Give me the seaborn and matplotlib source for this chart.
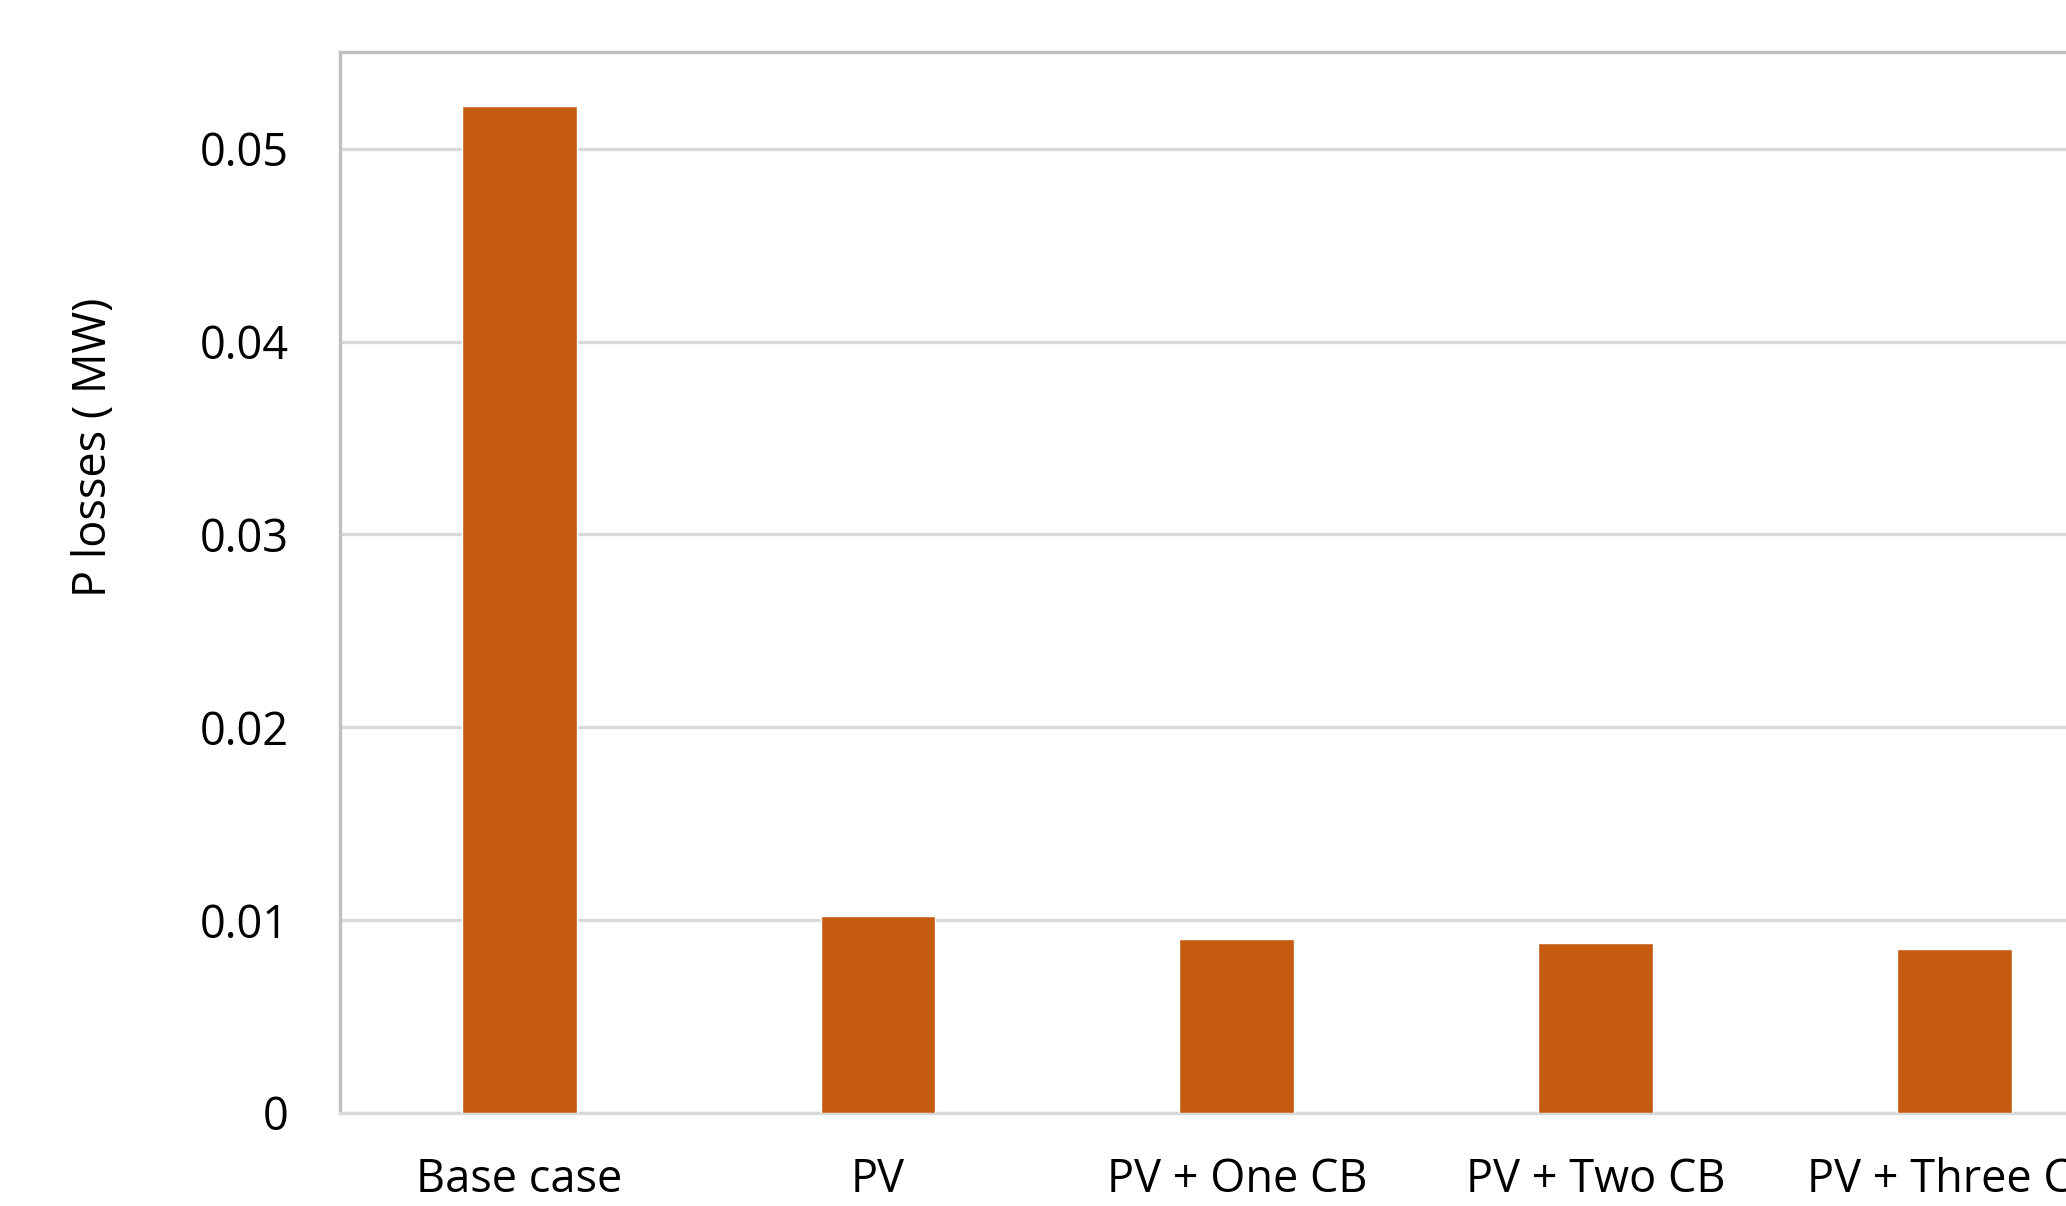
#%%
'''PACKAGE IMPORTS'''
import pandas as pd
import matplotlib.pyplot as plt
import numpy as np
import seaborn as sns

# %%
'''Data'''
cases = ['Base case', 'PV', 'PV + One CB', 'PV + Two CB', 'PV + Three CB']
pLosses = [0.0522, 0.0102, 0.0090, 0.0088, 0.0085]
yTicks = [0, 0.01, 0.02, 0.03, 0.04, 0.05]
yTickLabels = ['0', '0.01', '0.02', '0.03', '0.04', '0.05']

lossDat = pd.DataFrame({'case': cases, 'loss': pLosses})

# %%
sns.set_style('white')
plt.rcParams['font.family'] = ['Open Sans', 'DejaVu Sans']

fig = plt.figure(figsize = (20.66, 12.06), dpi = 100)
#axes runs off the right edge like the cropped original
ax = fig.add_axes([339.9/2066, 93/1206, (2066-339.9)/2066, (1113.4-52.7)/1206])

sns.barplot(data = lossDat, x = 'case', y = 'loss',
            color = '#C55A11', saturation = 1,
            width = 0.32, ax = ax, zorder = 3)

#Figure Specifications
ax.set_xlim(-0.5, 4.311)
ax.set_ylim(0, 0.055)
ax.set_yticks(yTicks)
ax.set_yticklabels(yTickLabels)
ax.yaxis.grid(True, color = '#D9D9D9', linewidth = 2.4, zorder = 0)
ax.set_axisbelow(True)

for sp in ['left', 'top']:
    ax.spines[sp].set_color('#BFBFBF')
    ax.spines[sp].set_linewidth(2.4)
ax.spines['right'].set_visible(False)
ax.spines['bottom'].set_color('#D9D9D9')
ax.spines['bottom'].set_linewidth(2.4)

ax.tick_params(axis = 'y', length = 12, width = 2.4, color = '#C8C8C8',
               direction = 'out', pad = 25, labelsize = 32.5, labelcolor = 'black')
ax.tick_params(axis = 'x', length = 0, pad = 32, labelsize = 32.5, labelcolor = 'black')

ax.set_xlabel('')
ax.set_ylabel('P losses ( MW)', fontsize = 32.5, color = 'black', va = 'center')
ax.yaxis.set_label_coords(-(339.9-94)/(2066-339.9), (1113.4-448)/(1113.4-52.7))

plt.savefig('out.png', dpi = 100)
